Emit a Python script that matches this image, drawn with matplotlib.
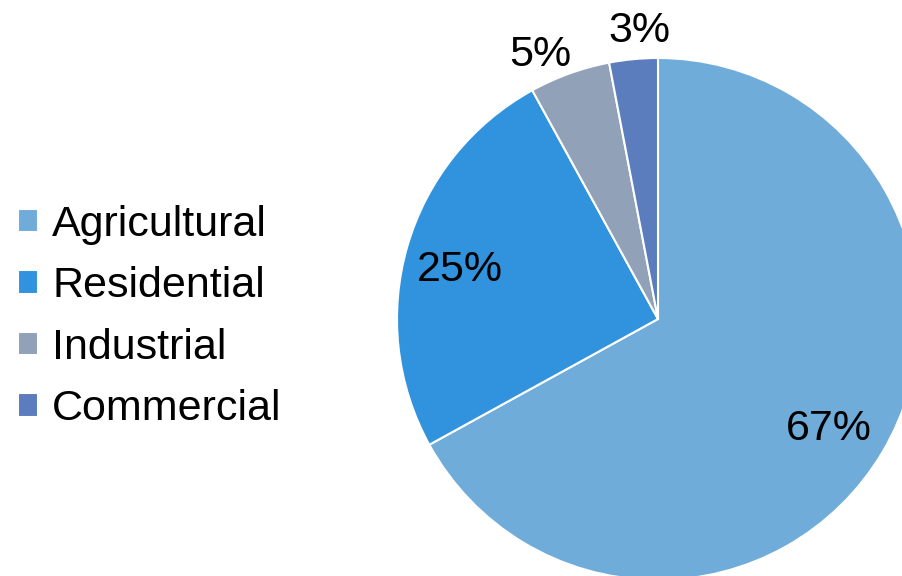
import numpy as np
import matplotlib
matplotlib.use("Agg")
import matplotlib.pyplot as plt

plt.rcParams["font.family"] = ["Liberation Sans", "DejaVu Sans"]

# Land use shares
categories = ["Agricultural", "Residential", "Industrial", "Commercial"]
shares = [67, 25, 5, 3]
colors = ["#70acd9", "#3193de", "#90a1b8", "#5b7cbd"]
# percentage label placement: fraction of radius, and angular nudge in degrees
label_dist = [0.76, 0.79, 1.14, 1.14]
label_nudge = [0, 0, 3.6, -1.9]

W, H = 903, 576
fig = plt.figure(figsize=(W / 100, H / 100), dpi=100)
ax = fig.add_axes([0, 0, 1, 1])

center = (658, 257)
radius = 261
wedges, _ = ax.pie(
    shares,
    colors=colors,
    startangle=90,
    counterclock=False,
    center=center,
    radius=radius,
    frame=True,
    wedgeprops={"edgecolor": "white", "linewidth": 1.5},
)

for wedge, share, dist, nudge in zip(wedges, shares, label_dist, label_nudge):
    mid = np.deg2rad((wedge.theta1 + wedge.theta2) / 2 + nudge)
    x = center[0] + dist * radius * np.cos(mid)
    y = center[1] + dist * radius * np.sin(mid) - 9
    ax.text(x, y, f"{share}%", ha="center", va="center", fontsize=31)

ax.set_xlim(0, W)
ax.set_ylim(0, H)
ax.axis("off")

ax.legend(
    wedges,
    categories,
    loc="center left",
    bbox_to_anchor=(18 / W, 259 / H),
    frameon=False,
    fontsize=31,
    borderpad=0,
    borderaxespad=0,
    handlelength=0.47,
    handleheight=0.47,
    handletextpad=0.32,
    labelspacing=0.5,
)

fig.savefig("out.png", dpi=100)
